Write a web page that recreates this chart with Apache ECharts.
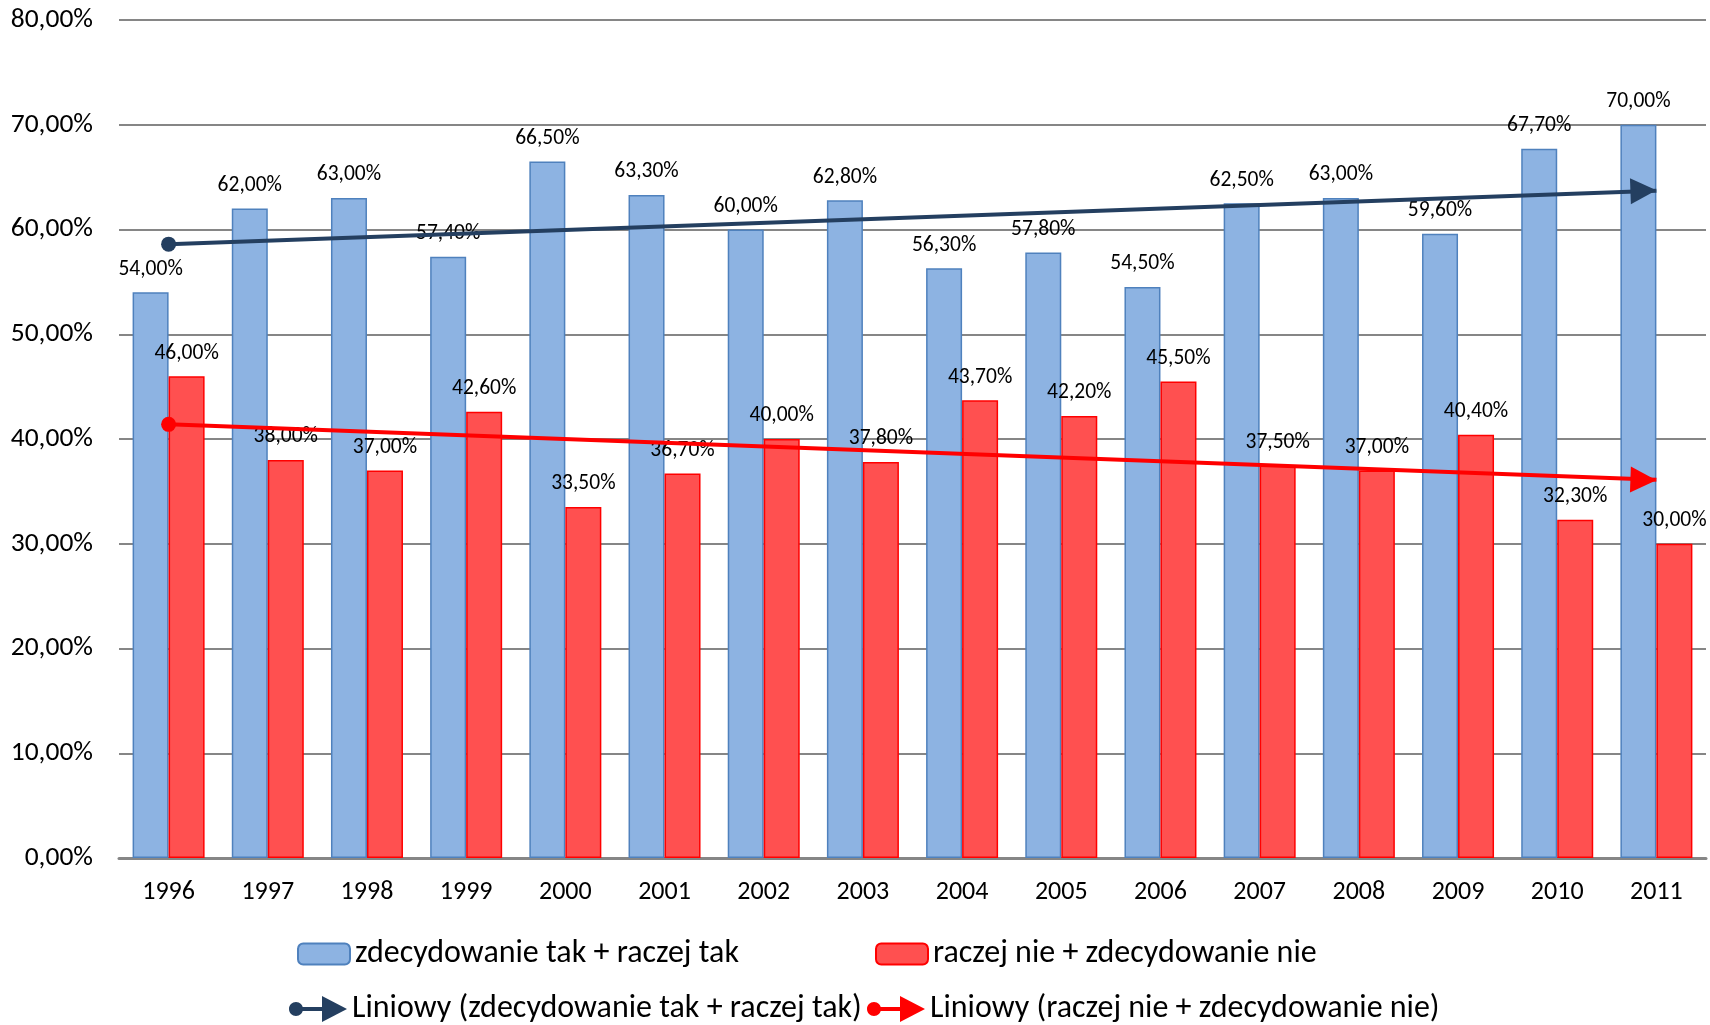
<!DOCTYPE html>
<html>
<head>
<meta charset="utf-8">
<script src="https://cdn.jsdelivr.net/npm/echarts@6/dist/echarts.min.js"></script>
<style>
html,body{margin:0;padding:0;background:#fff;}
#chart{width:1710px;height:1025px;}
</style>
</head>
<body>
<div id="chart"></div>
<script>
const categories = ['1996','1997','1998','1999','2000','2001','2002','2003','2004','2005','2006','2007','2008','2009','2010','2011'];
const yesValues = [54.0, 62.0, 63.0, 57.4, 66.5, 63.3, 60.0, 62.8, 56.3, 57.8, 54.5, 62.5, 63.0, 59.6, 67.7, 70.0];
const noValues  = [46.0, 38.0, 37.0, 42.6, 33.5, 36.7, 40.0, 37.8, 43.7, 42.2, 45.5, 37.5, 37.0, 40.4, 32.3, 30.0];
// trend line endpoints: [categoryIndex, value]
const yesTrend = [[0, 58.6], [15, 63.7]];
const noTrend  = [[0, 41.4], [15, 36.1]];
const seriesNames = ['zdecydowanie tak + raczej tak', 'raczej nie + zdecydowanie nie',
  'Liniowy (zdecydowanie tak + raczej tak)', 'Liniowy (raczej nie + zdecydowanie nie)'];
const yTicks = {min: 0, max: 80, interval: 10};

const FONT = 'Carlito, Calibri, Lato, sans-serif';
const fmt = v => v.toFixed(2).replace('.', ',') + '%';
const trendIcon = 'path://M0,13 C0,9.134 3.134,6 7,6 C10.866,6 14,9.134 14,13 C14,16.866 10.866,20 7,20 C3.134,20 0,16.866 0,13 Z ' +
  'M7,11 L35,11 L35,15 L7,15 Z M33,0 L58,13 L33,26 Z';

function trendData(pts, rot) {
  return [
    {value: pts[0], symbol: 'circle', symbolSize: 15},
    {value: pts[1], symbol: 'triangle', symbolSize: 26, symbolRotate: rot, symbolOffset: [-13, 0]}
  ];
}

const chart = echarts.init(document.getElementById('chart'), null, {renderer: 'canvas'});
const legendBase = {
  orient: 'horizontal', padding: 0, itemGap: 0,
  textStyle: {fontFamily: FONT, fontSize: 32, color: '#000', lineHeight: 34},
  selectedMode: false
};
chart.setOption({
  animation: false,
  backgroundColor: '#fff',
  textStyle: {fontFamily: FONT},
  grid: {left: 119, right: 4, top: 20, bottom: 167, containLabel: false},
  legend: [
    Object.assign({}, legendBase, {left: 297, top: 937, itemWidth: 52, itemHeight: 21, data: [seriesNames[0]]}),
    Object.assign({}, legendBase, {left: 875, top: 937, itemWidth: 52, itemHeight: 21, data: [seriesNames[1]]}),
    Object.assign({}, legendBase, {left: 289, top: 992, itemWidth: 58, itemHeight: 26, data: [{name: seriesNames[2], icon: trendIcon}]}),
    Object.assign({}, legendBase, {left: 867, top: 992, itemWidth: 58, itemHeight: 26, data: [{name: seriesNames[3], icon: trendIcon}]})
  ],
  xAxis: {
    type: 'category', data: categories, boundaryGap: true,
    axisLine: {lineStyle: {color: '#868686', width: 3}},
    axisTick: {show: false},
    axisLabel: {fontFamily: FONT, fontSize: 26, color: '#000', margin: 21},
    splitLine: {show: false}
  },
  yAxis: {
    type: 'value', min: yTicks.min, max: yTicks.max, interval: yTicks.interval,
    axisLine: {show: false}, axisTick: {show: false},
    axisLabel: {fontFamily: FONT, fontSize: 27.5, color: '#000', margin: 26, formatter: fmt},
    splitLine: {lineStyle: {color: '#868686', width: 2}}
  },
  series: [
    {
      name: seriesNames[0], type: 'bar', data: yesValues, barWidth: 36, barGap: '0%',
      itemStyle: {color: '#8DB3E2', borderColor: '#4F81BD', borderWidth: 1.5},
      label: {show: true, position: 'top', distance: 12, fontFamily: FONT, fontSize: 21.5, color: '#000', formatter: p => fmt(p.value)},
      z: 2
    },
    {
      name: seriesNames[1], type: 'bar', data: noValues, barWidth: 36,
      itemStyle: {color: '#FF5050', borderColor: '#FF0000', borderWidth: 1.5},
      label: {show: true, position: 'top', distance: 12, fontFamily: FONT, fontSize: 21.5, color: '#000', formatter: p => fmt(p.value)},
      z: 2
    },
    {
      name: seriesNames[2], type: 'line', data: trendData(yesTrend, -88),
      lineStyle: {color: '#243F60', width: 4}, itemStyle: {color: '#243F60'},
      z: 5
    },
    {
      name: seriesNames[3], type: 'line', data: trendData(noTrend, -92),
      lineStyle: {color: '#FF0000', width: 4}, itemStyle: {color: '#FF0000'},
      z: 5
    }
  ]
});
</script>
</body>
</html>
